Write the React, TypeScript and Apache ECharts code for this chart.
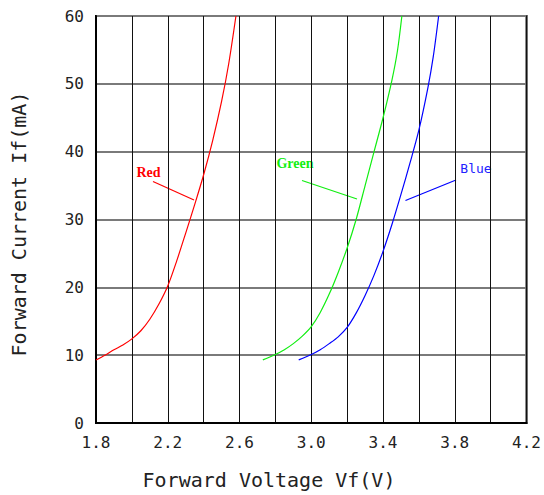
import React, { useEffect, useRef } from "react";
import * as echarts from "echarts";

const redData: [number, number][] = [
  [1.8, 9.3], [1.85, 10.0], [1.9, 10.8], [1.95, 11.5], [2.0, 12.4], [2.05, 13.6], [2.1, 15.3],
  [2.15, 17.5], [2.2, 20.2], [2.25, 23.9], [2.3, 28.0], [2.35, 32.2], [2.4, 36.6], [2.45, 41.6],
  [2.5, 47.4], [2.54, 53.0], [2.58, 60],
];
const greenData: [number, number][] = [
  [2.73, 9.3], [2.8, 10.1], [2.85, 10.8], [2.9, 11.7], [2.95, 12.8], [3.0, 14.2], [3.05, 16.3],
  [3.1, 19.0], [3.15, 22.2], [3.2, 25.8], [3.25, 30.0], [3.3, 35.0], [3.35, 40.0], [3.4, 45.0],
  [3.45, 50.6], [3.48, 54.8], [3.505, 60],
];
const blueData: [number, number][] = [
  [2.93, 9.3], [3.0, 10.1], [3.05, 10.8], [3.1, 11.7], [3.15, 12.7], [3.2, 14.1], [3.25, 16.2],
  [3.3, 18.8], [3.35, 21.8], [3.4, 25.3], [3.45, 29.3], [3.5, 33.7], [3.55, 38.3], [3.6, 43.2],
  [3.65, 49.4], [3.68, 54.0], [3.71, 60],
];

const xName = "Forward Voltage Vf(V)";
const yName = "Forward Current If(mA)";
const MONO = "'DejaVu Sans Mono', 'Liberation Mono', monospace";
const SERIF = "'Liberation Serif', 'DejaVu Serif', serif";

export default function App() {
  const ref = useRef<HTMLDivElement>(null);
  useEffect(() => {
    if (!ref.current) return;
    const chart = echarts.init(ref.current, null, { renderer: "svg" });
    const line = (name: string, data: [number, number][], color: string) => ({
      name,
      type: "line",
      data,
      smooth: 0.3,
      showSymbol: false,
      symbol: "none",
      lineStyle: { color, width: 1.2 },
      z: 5,
    });
    chart.setOption({
      animation: false,
      backgroundColor: "#fff",
      grid: {
        left: 96, right: 16, top: 16, bottom: 72,
        show: true, borderColor: "#000", borderWidth: 2,
      },
      xAxis: {
        type: "value",
        min: 1.8,
        max: 4.2,
        interval: 0.2,
        axisLine: { show: true, lineStyle: { color: "#000", width: 2 } },
        axisTick: { show: false },
        axisLabel: {
          color: "#222",
          fontFamily: MONO,
          fontSize: 16,
          margin: 11,
          formatter: (v: number) =>
            Math.round(v * 10) % 4 === 2 ? v.toFixed(1) : "",
        },
        splitLine: { show: true, lineStyle: { color: "#111", width: 1 } },
      },
      yAxis: {
        type: "value",
        min: 0,
        max: 60,
        interval: 10,
        axisLine: { show: true, lineStyle: { color: "#000", width: 2 } },
        axisTick: { show: false },
        axisLabel: { color: "#222", fontFamily: MONO, fontSize: 16, margin: 12 },
        splitLine: { show: true, lineStyle: { color: "#7a7a7a", width: 2 } },
      },
      graphic: [
        {
          type: "text", x: 269, y: 480,
          style: { text: xName, fontFamily: MONO, fontSize: 20, fill: "#222", align: "center", verticalAlign: "middle" },
        },
        {
          type: "text", x: 19, y: 224, rotation: Math.PI / 2,
          style: { text: yName, fontFamily: MONO, fontSize: 20, fill: "#222", align: "center", verticalAlign: "middle" },
        },
        {
          type: "text", x: 148.5, y: 172,
          style: { text: "Red", fontFamily: SERIF, fontWeight: "bold", fontSize: 14, fill: "#ff0000", align: "center", verticalAlign: "middle" },
        },
        { type: "line", shape: { x1: 153, y1: 181.5, x2: 194, y2: 200 }, style: { stroke: "#ff0000", lineWidth: 1.2 } },
        {
          type: "text", x: 295, y: 163,
          style: { text: "Green", fontFamily: SERIF, fontWeight: "bold", fontSize: 14, fill: "#11ee11", align: "center", verticalAlign: "middle" },
        },
        { type: "line", shape: { x1: 302, y1: 180.5, x2: 357, y2: 199 }, style: { stroke: "#11ee11", lineWidth: 1.2 } },
        {
          type: "text", x: 476, y: 168,
          style: { text: "Blue", fontFamily: MONO, fontSize: 13, fill: "#2222ff", align: "center", verticalAlign: "middle" },
        },
        { type: "line", shape: { x1: 456, y1: 180, x2: 405.5, y2: 200.5 }, style: { stroke: "#0000ff", lineWidth: 1.2 } },
      ],
      series: [
        line("Red", redData, "#ff0000"),
        line("Green", greenData, "#11ee11"),
        line("Blue", blueData, "#0000ff"),
      ],
    });
    return () => chart.dispose();
  }, []);
  return <div ref={ref} style={{ width: 544, height: 495, position: "absolute", left: 0, top: 0 }} />;
}
